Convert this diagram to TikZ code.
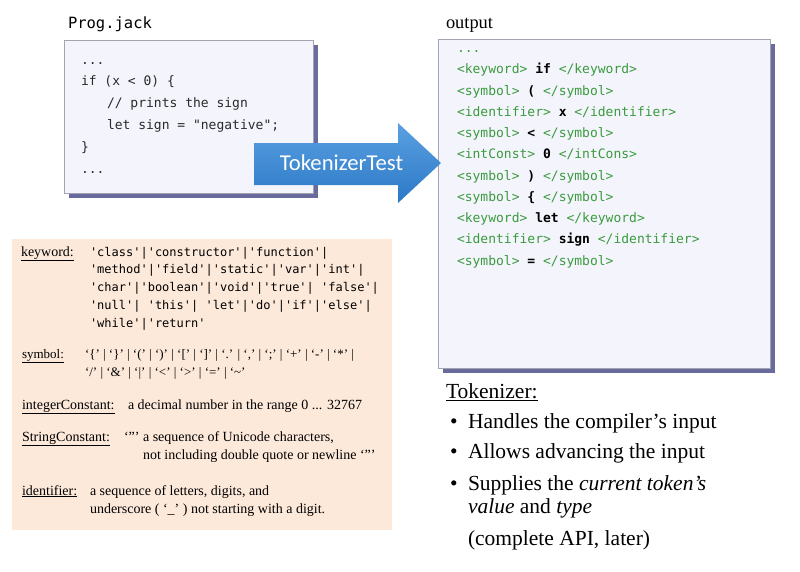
\documentclass[tikz,border=0pt]{standalone}
\usepackage{fontspec}
\setmainfont{Liberation Serif}
\setmonofont{DejaVu Sans Mono}
\newfontfamily\arrowfont{Carlito}
\usetikzlibrary{shadows}

\definecolor{boxfill}{HTML}{F4F5FC}
\definecolor{boxline}{HTML}{A2A4B2}
\definecolor{boxshade}{HTML}{585C92}
\definecolor{tagcol}{HTML}{3A9A3E}
\definecolor{codeink}{HTML}{2A2A2A}
\definecolor{grammarfill}{HTML}{FDE9DA}
\definecolor{arrowtop}{HTML}{5AA0E2}
\definecolor{arrowbot}{HTML}{2C78C6}

% multi-line text whose baseline is the first line
\newcommand{\stack}[1]{\begin{tabular}[t]{@{}l@{}}#1\end{tabular}}
\newcommand{\tg}[1]{\textcolor{tagcol}{#1}}

\begin{document}
\begin{tikzpicture}[x=1pt,y=-1pt,
  filebox/.style={draw=boxline, line width=0.8pt, fill=boxfill, anchor=north west,
    inner sep=0pt, drop shadow={shadow xshift=5pt, shadow yshift=-5pt,
    fill=boxshade, opacity=0.9}},
  txt/.style={anchor=base west, inner sep=0pt, outer sep=0pt},
  codefont/.style={txt, text=codeink, font=\ttfamily\fontsize{13}{21.8}\selectfont},
  outfont/.style={txt, text=black, font=\ttfamily\fontsize{13}{21.25}\selectfont},
  kwfont/.style={txt, font=\ttfamily\fontsize{12}{17.75}\selectfont},
  gramfont/.style={txt, font=\fontsize{14}{18}\selectfont},
  tokfont/.style={txt, font=\fontsize{21.5}{23}\selectfont},
  blockarrow/.style={top color=arrowtop, bottom color=arrowbot, draw=none}
]
\useasboundingbox[fill=white] (0,0) rectangle (800,571);

% ---- source file ----
\node[filebox, minimum width=249pt, minimum height=153pt] (src) at (64,40) {};
\node[txt, font=\ttfamily\fontsize{15.5}{18}\selectfont] (srcname) at (68,28) {Prog.jack};
\node[codefont] (srctext) at (81,64) {\stack{%
...\\
if (x < 0) \{\\
\hspace*{26pt}// prints the sign\\
\hspace*{26pt}let sign = "negative";\\
\}\\
...}};

% ---- token output ----
\node[filebox, minimum width=332pt, minimum height=329pt] (out) at (438,39) {};
\node[txt, font=\fontsize{18.4}{22}\selectfont] (outname) at (446,28) {output};
\node[outfont] (outtext) at (457,52.5) {\stack{%
\tg{...}\\
\tg{<keyword>} \textbf{if} \tg{</keyword>}\\
\tg{<symbol>} \textbf{(} \tg{</symbol>}\\
\tg{<identifier>} \textbf{x} \tg{</identifier>}\\
\tg{<symbol>} \textbf{<} \tg{</symbol>}\\
\tg{<intConst>} \textbf{0} \tg{</intCons>}\\
\tg{<symbol>} \textbf{)} \tg{</symbol>}\\
\tg{<symbol>} \textbf{\{} \tg{</symbol>}\\
\tg{<keyword>} \textbf{let} \tg{</keyword>}\\
\tg{<identifier>} \textbf{sign} \tg{</identifier>}\\
\tg{<symbol>} \textbf{=} \tg{</symbol>}}};

% ---- tokenizer arrow ----
\path[blockarrow] (254,143) -- (398,143) -- (398,123) -- (441,163)
  -- (398,203) -- (398,185) -- (254,185) -- cycle;
\node[text=white, font=\arrowfont\fontsize{22.7}{24}\selectfont, inner sep=0pt]
  (tool) at (341.5,163) {TokenizerTest};

% ---- lexical grammar ----
\node[fill=grammarfill, anchor=north west, minimum width=380pt, minimum height=291pt,
  inner sep=0pt] (grammar) at (12,239) {};

\node[gramfont] (kwlab) at (21,256) {\underline{keyword:}};
\node[kwfont] (kwval) at (90,256) {\stack{%
'class'|'constructor'|'function'|\\
'method'|'field'|'static'|'var'|'int'|\\
'char'|'boolean'|'void'|'true'| 'false'|\\
'null'| 'this'| 'let'|'do'|'if'|'else'|\\
'while'|'return'}};

\node[gramfont, font=\fontsize{13}{18}\selectfont] (symlab) at (22,358) {\underline{symbol:}};
\node[gramfont, font=\fontsize{13}{18}\selectfont] (symval) at (85,358) {\stack{%
`\{' | `\}' | `(' | `)' | `[' | `]' | `.' | `,' | `;' | `+' | `-' | `*' |\\
`/' | `\&' | `|' | `<' | `>' | `=' | `\textasciitilde'}};

\node[gramfont] (intlab) at (22,409) {\underline{integerConstant:}};
\node[gramfont] (intval) at (128,409) {a decimal number in the range 0 ... 32767};

\node[gramfont] (strlab) at (22,441) {\underline{StringConstant:}};
\node[gramfont] (strval) at (124,441) {\stack{%
`"' a sequence of Unicode characters,\\
\phantom{`"' }not including double quote or newline `"'}};

\node[gramfont] (idlab) at (22,495) {\underline{identifier:}};
\node[gramfont] (idval) at (90,495) {\stack{%
a sequence of letters, digits, and\\
underscore ( `\_' ) not starting with a digit.}};

% ---- tokenizer summary ----
\node[tokfont] (tokhead) at (446,398) {\underline{Tokenizer:}};
\node[tokfont] (item1) at (450,428) {\makebox[18pt][l]{\textbullet}Handles the compiler's input};
\node[tokfont] (item2) at (450,458) {\makebox[18pt][l]{\textbullet}Allows advancing the input};
\node[tokfont] (item3) at (450,490) {\stack{%
\makebox[18pt][l]{\textbullet}Supplies the \textit{current token's}\\
\hspace*{18pt}\textit{value} and \textit{type}}};
\node[tokfont] (later) at (468,545) {(complete API, later)};
\end{tikzpicture}
\end{document}
